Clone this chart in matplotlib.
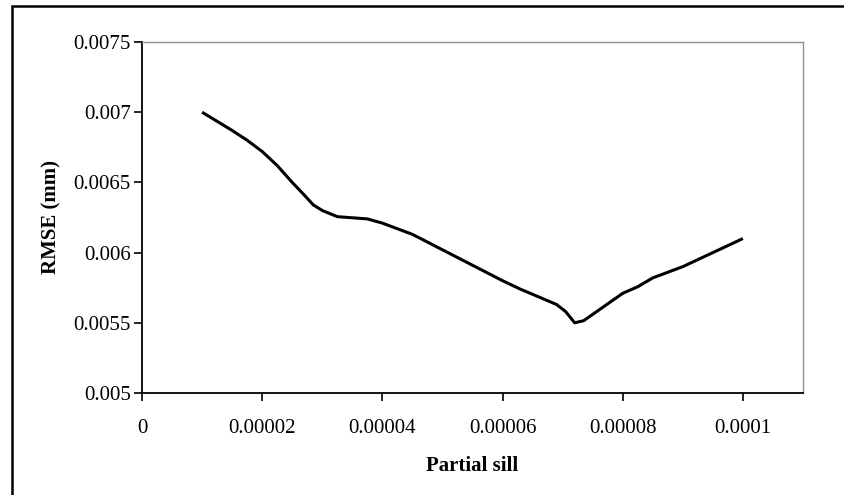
import matplotlib
matplotlib.use("Agg")
import matplotlib.pyplot as plt
from matplotlib.patches import Rectangle

partial_sill = [1.0e-5, 1.5e-5, 1.75e-5, 2.0e-5, 2.25e-5, 2.5e-5, 2.7e-5, 2.85e-5,
                3.0e-5, 3.25e-5, 3.75e-5, 4.0e-5, 4.5e-5, 5.0e-5, 5.5e-5, 6.0e-5,
                6.3e-5, 6.5e-5, 6.9e-5, 7.05e-5, 7.2e-5, 7.35e-5, 7.6e-5, 8.0e-5,
                8.25e-5, 8.5e-5, 9.0e-5, 9.5e-5, 10.0e-5]
rmse = [0.00700, 0.00687, 0.00680, 0.00672, 0.00662, 0.00650, 0.00641, 0.00634,
        0.00630, 0.006256, 0.00624, 0.00621, 0.00613, 0.00602, 0.00591, 0.00580,
        0.005739, 0.005703, 0.00563, 0.00558, 0.00550, 0.005515, 0.00559, 0.00571,
        0.005757, 0.00582, 0.00590, 0.00600, 0.00610]
x_ticks = [0, 0.00002, 0.00004, 0.00006, 0.00008, 0.0001]
x_tick_labels = ["0", "0.00002", "0.00004", "0.00006", "0.00008", "0.0001"]
y_ticks = [0.005, 0.0055, 0.006, 0.0065, 0.007, 0.0075]
y_tick_labels = ["0.005", "0.0055", "0.006", "0.0065", "0.007", "0.0075"]

plt.rcParams['font.family'] = ['Liberation Serif', 'DejaVu Serif']

fig = plt.figure(figsize=(8.44, 4.95), dpi=100)
ax = fig.add_axes([142/844, 1-393/495, (803-142)/844, (393-42)/495])

ax.plot(partial_sill, rmse, color='black', linewidth=2.2,
        solid_joinstyle='round', solid_capstyle='butt')

ax.set_xlim(0, 0.00011)
ax.set_ylim(0.005, 0.0075)
ax.set_xticks(x_ticks)
ax.set_xticklabels(x_tick_labels)
ax.set_yticks(y_ticks)
ax.set_yticklabels(y_tick_labels)
ax.tick_params(axis='both', direction='out', length=6, width=1.2, labelsize=15,
               colors='black')
ax.tick_params(axis='x', pad=13)
ax.tick_params(axis='y', pad=2)

for s in ['left', 'bottom']:
    ax.spines[s].set_color('black')
    ax.spines[s].set_linewidth(1.3)
for s in ['top', 'right']:
    ax.spines[s].set_color('#909090')
    ax.spines[s].set_linewidth(1.0)

ax.set_xlabel('Partial sill', fontsize=15, fontweight='bold', labelpad=13)
ax.set_ylabel('RMSE (mm)', fontsize=15, fontweight='bold', labelpad=9)

border = Rectangle((12/844, -0.2), 1.2, 1.2 - 6/495, transform=fig.transFigure,
                   fill=False, edgecolor='black', linewidth=1.8, clip_on=False)
fig.patches.append(border)

fig.savefig('out.png', dpi=100)
